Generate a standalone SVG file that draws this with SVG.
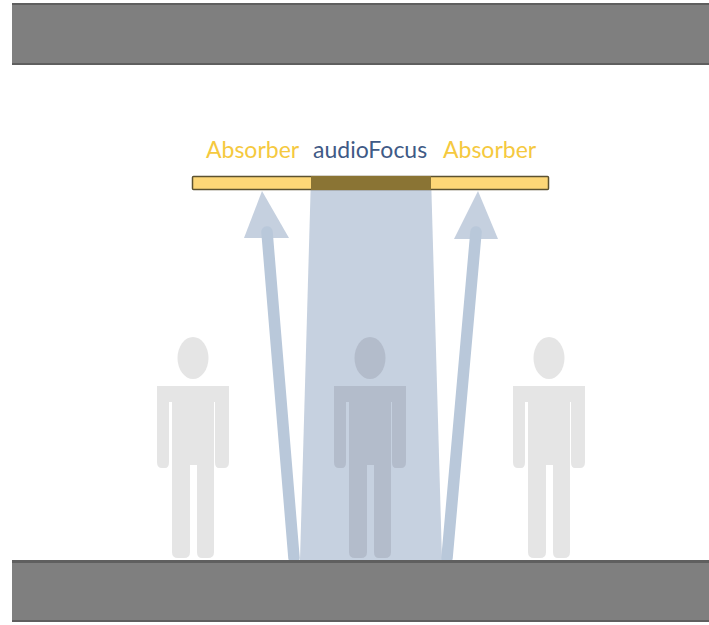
<svg xmlns="http://www.w3.org/2000/svg" width="709" height="625" viewBox="0 0 709 625">
<style>
.wall{fill:#7f7f7f}
.walledge{fill:#5f5f5f}
.lab{font-family:"Lato","Open Sans",sans-serif;font-size:23px}
.abs{fill:#f5c93f}
.foc{fill:#3f5a86}
.shaft{stroke:#b9c8da;stroke-width:11.500;stroke-linecap:round;fill:none}
.head{fill:#c5d0df}
</style>
<defs>
<g id="person">
<ellipse cx="0" cy="358" rx="15.5" ry="21"/>
<path d="M-36 386H36V462Q36 468 31 468H26Q22 468 22 462V402H21V552Q21 558 15 558H9Q4 558 4 552V465H-3V552Q-3 558 -9 558H-15Q-21 558 -21 552V402H-24V462Q-24 468 -28 468H-31Q-36 468 -36 462Z"/>
</g>
</defs>
<rect width="709" height="625" fill="#ffffff"/>
<g id="wall-top"><rect class="wall" x="12" y="3" width="697" height="62"/><rect class="walledge" x="12" y="3" width="697" height="2"/><rect class="walledge" x="12" y="63" width="697" height="2"/></g>
<g id="person-left" fill="#e5e5e5"><use href="#person" x="193"/></g>
<g id="person-right" fill="#e5e5e5"><use href="#person" x="549"/></g>
<g id="beam"><polygon points="311,176 431,176 442,560 300,560" fill="#c6d1e0"/></g>
<g id="person-center" fill="#b3bccb"><use href="#person" x="370"/></g>
<g id="connectors">
<polygon class="head" points="262,191 244,238 289,238"/>
<path class="shaft" d="M294 558L267 232"/>
<polygon class="head" points="478,191 454,239 498,239"/>
<path class="shaft" d="M447 558L476 232"/>
</g>
<g id="wall-bottom"><rect class="wall" x="12" y="560" width="697" height="62"/><rect class="walledge" x="12" y="560" width="697" height="3"/><rect class="walledge" x="12" y="620" width="697" height="2"/></g>
<g id="absorber">
<rect x="192.500" y="176.500" width="356" height="13" rx="1" fill="#fdd777" stroke="#5c5230" stroke-width="1.500"/>
<rect x="311" y="176" width="120" height="14" fill="#8a7434"/>
</g>
<g id="labels">
<text class="lab abs" x="206" y="158">Absorber</text>
<text class="lab foc" x="313" y="158">audioFocus</text>
<text class="lab abs" x="443" y="158">Absorber</text>
</g>
</svg>
